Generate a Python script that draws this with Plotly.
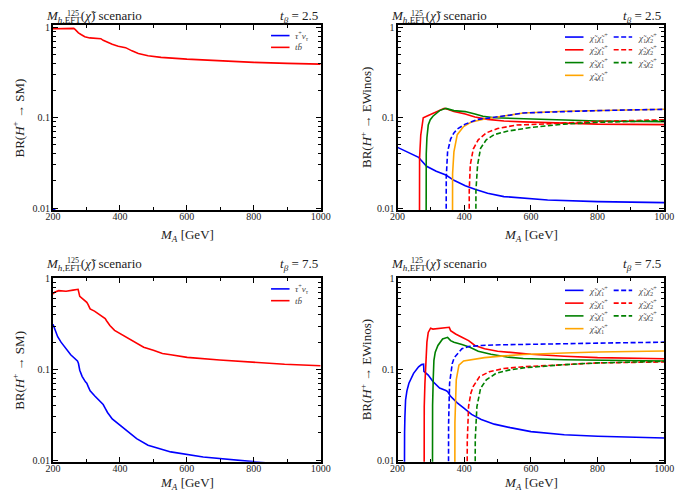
import plotly.graph_objects as go
from plotly.subplots import make_subplots

# ---- data: BR(H+ -> SM), tan(beta) = 2.5 ----
sm25_tb_x = [200, 230, 262, 266, 276, 285, 295, 310, 330, 343, 350, 357, 377, 395, 402, 417, 436, 455, 484, 523, 600, 700, 800, 900, 1000]
sm25_tb_y = [0.965, 0.97, 0.975, 0.95, 0.87, 0.83, 0.79, 0.765, 0.755, 0.75, 0.72, 0.70, 0.65, 0.62, 0.61, 0.597, 0.55, 0.515, 0.485, 0.466, 0.445, 0.425, 0.41, 0.40, 0.392]
sm25_tau_x = [200, 220, 260, 280, 300, 350, 400, 500, 600, 800, 1000]
sm25_tau_y = [0.0098, 0.0088, 0.0075, 0.0065, 0.0058, 0.0048, 0.0040, 0.0031, 0.0026, 0.0021, 0.0019]

# ---- data: BR(H+ -> SM), tan(beta) = 7.5 ----
sm75_tb_x = [200, 205, 217, 239, 260, 275, 280, 290, 296, 301, 305, 311, 324, 335, 350, 356, 360, 370, 384, 403, 427, 447, 471, 500, 527, 552, 601, 698, 795, 892, 1000]
sm75_tb_y = [0.68, 0.71, 0.74, 0.73, 0.75, 0.766, 0.64, 0.60, 0.567, 0.55, 0.52, 0.465, 0.44, 0.41, 0.38, 0.365, 0.345, 0.305, 0.27, 0.246, 0.218, 0.196, 0.176, 0.163, 0.150, 0.145, 0.136, 0.127, 0.12, 0.114, 0.11]
sm75_tau_x = [200, 207, 214, 224, 234, 253, 273, 276, 280, 287, 297, 301, 305, 311, 325, 339, 350, 355, 363, 377, 402, 426, 450, 484, 552, 649, 746, 795, 900, 1000]
sm75_tau_y = [0.315, 0.27, 0.23, 0.2, 0.179, 0.145, 0.124, 0.117, 0.098, 0.084, 0.073, 0.0705, 0.065, 0.058, 0.051, 0.045, 0.041, 0.038, 0.0335, 0.0284, 0.024, 0.0203, 0.0172, 0.0146, 0.0123, 0.0108, 0.0100, 0.0096, 0.0088, 0.0082]

# ---- data: BR(H+ -> EWinos), tan(beta) = 2.5 ----
ew25 = {
    "c11": ([200, 230, 263, 270, 287, 316, 345, 369, 403, 432, 470, 519, 577, 650, 800, 1000],
            [0.047, 0.042, 0.0365, 0.034, 0.029, 0.0256, 0.0232, 0.0203, 0.0177, 0.0162, 0.0146, 0.0134, 0.0128, 0.0123, 0.0118, 0.0115]),
    "c21": ([265, 265.3, 266, 269.5, 273, 277, 292, 311, 325, 340, 350, 369, 403, 432, 470, 519, 577, 700, 800, 1000],
            [1e-4, 0.02, 0.036, 0.064, 0.085, 0.1, 0.106, 0.114, 0.121, 0.127, 0.124, 0.117, 0.11, 0.102, 0.096, 0.092, 0.09, 0.087, 0.085, 0.084]),
    "c31": ([285, 285.3, 286, 288, 292, 298, 306, 326, 345, 369, 403, 432, 456, 490, 577, 700, 800, 1000],
            [1e-4, 0.015, 0.04, 0.06, 0.083, 0.095, 0.104, 0.12, 0.127, 0.12, 0.117, 0.11, 0.104, 0.1, 0.0975, 0.094, 0.092, 0.0905]),
    "c41": ([364, 364.5, 365, 369, 374, 379, 398, 422, 461, 500, 538, 577, 700, 800, 1000],
            [1e-4, 0.015, 0.024, 0.042, 0.055, 0.065, 0.08, 0.09, 0.097, 0.1017, 0.107, 0.113, 0.118, 0.12, 0.124]),
    "c12": ([345, 345.5, 346, 350, 359, 369, 379, 403, 442, 480, 500, 538, 577, 700, 800, 1000],
            [1e-4, 0.01, 0.022, 0.042, 0.058, 0.068, 0.075, 0.085, 0.096, 0.1, 0.1017, 0.107, 0.113, 0.118, 0.12, 0.124]),
    "c22": ([414, 414.5, 415, 418, 427, 442, 466, 500, 557, 600, 700, 800, 1000],
            [1e-4, 0.012, 0.0156, 0.03, 0.045, 0.057, 0.068, 0.076, 0.083, 0.084, 0.088, 0.091, 0.095]),
    "c32": ([434, 434.5, 435, 440, 449, 466, 490, 528, 567, 600, 700, 800, 1000],
            [1e-4, 0.012, 0.0156, 0.03, 0.046, 0.057, 0.065, 0.071, 0.075, 0.078, 0.085, 0.089, 0.093]),
}

# ---- data: BR(H+ -> EWinos), tan(beta) = 7.5 ----
ew75 = {
    "c11": ([219, 219.5, 220, 221, 222, 224, 228, 234, 248, 263, 272, 278, 279, 292, 306, 326, 345, 350, 359, 379, 398, 422, 451, 490, 538, 577, 600, 700, 800, 1000],
            [1e-4, 0.005, 0.012, 0.02, 0.03, 0.046, 0.058, 0.0705, 0.0905, 0.107, 0.113, 0.114, 0.095, 0.0868, 0.0735, 0.0622, 0.0586, 0.057, 0.0505, 0.0427, 0.0377, 0.0319, 0.0281, 0.0249, 0.0228, 0.0216, 0.0206, 0.019, 0.0183, 0.0175]),
    "c21": ([279, 279.3, 280, 282, 285, 288, 292, 299, 306, 335, 350, 355, 359, 374, 393, 413, 432, 461, 500, 548, 577, 600, 700, 800, 1000],
            [1e-4, 0.02, 0.039, 0.07, 0.137, 0.2, 0.256, 0.285, 0.279, 0.286, 0.29, 0.292, 0.268, 0.246, 0.227, 0.208, 0.184, 0.169, 0.159, 0.152, 0.149, 0.147, 0.14, 0.135, 0.131]),
    "c31": ([304, 304.3, 305, 307, 309, 313, 321, 335, 350, 359, 369, 393, 417, 442, 480, 528, 577, 700, 800, 1000],
            [1e-4, 0.02, 0.04, 0.08, 0.126, 0.155, 0.184, 0.217, 0.226, 0.208, 0.2, 0.188, 0.176, 0.159, 0.147, 0.137, 0.132, 0.128, 0.126, 0.124]),
    "c41": ([371, 371.3, 372, 376, 380, 384, 398, 422, 461, 519, 577, 700, 800, 1000],
            [1e-4, 0.015, 0.026, 0.0766, 0.098, 0.1115, 0.124, 0.128, 0.135, 0.141, 0.146, 0.152, 0.156, 0.16]),
    "c12": ([352, 352.3, 353, 356, 360, 364, 370, 379, 393, 413, 451, 509, 577, 700, 800, 1000],
            [1e-4, 0.015, 0.025, 0.0705, 0.095, 0.116, 0.135, 0.149, 0.169, 0.179, 0.184, 0.187, 0.188, 0.192, 0.195, 0.2]),
    "c22": ([408, 408.3, 409, 413, 420, 427, 446, 475, 519, 577, 700, 800, 1000],
            [1e-4, 0.012, 0.016, 0.0393, 0.055, 0.065, 0.0832, 0.0943, 0.1025, 0.107, 0.114, 0.118, 0.121]),
    "c32": ([432, 432.3, 433, 438, 449, 466, 495, 533, 577, 700, 800, 1000],
            [1e-4, 0.012, 0.017, 0.039, 0.062, 0.0766, 0.0905, 0.0983, 0.104, 0.113, 0.118, 0.123]),
}

tanb_labels = ["2.5", "7.5"]
x_ticks = [200, 400, 600, 800, 1000]
y_ticks = [0.01, 0.1, 1]
y_tick_text = ["0.01", "0.1", "1"]

BLUE, RED, GREEN, ORANGE = "#0000ff", "#ff0000", "#008000", "#ffa500"
FONT = "Liberation Serif"
OFF = 8  # the page body margin shifts the figure by 8 px
W, H = 685 - OFF, 503 - OFF


def px(x):
    return (x - OFF) / W


def py(y):
    return 1 - (y - OFF) / H


def chi(i, j):
    return f"<i>χ̃</i><sub>{i}</sub><i>χ̃</i><sub>{j}</sub><sup>+</sup>"


# channel key -> (color, dash, legend html)
ew_style = {
    "c11": (BLUE, "solid", chi(1, 1)),
    "c21": (RED, "solid", chi(2, 1)),
    "c31": (GREEN, "solid", chi(3, 1)),
    "c41": (ORANGE, "solid", chi(4, 1)),
    "c12": (BLUE, "5px,2.5px", chi(1, 2)),
    "c22": (RED, "5px,2.5px", chi(2, 2)),
    "c32": (GREEN, "5px,2.5px", chi(3, 2)),
}
ew_order = ["c11", "c21", "c31", "c41", "c12", "c22", "c32"]

fig = make_subplots(rows=2, cols=2)

sm_sets = [(sm25_tau_x, sm25_tau_y, sm25_tb_x, sm25_tb_y), (sm75_tau_x, sm75_tau_y, sm75_tb_x, sm75_tb_y)]
for r, (tx, ty, bx, by) in enumerate(sm_sets, start=1):
    fig.add_trace(go.Scatter(x=tx, y=ty, mode="lines", line=dict(color=BLUE, width=1.6), showlegend=False), row=r, col=1)
    fig.add_trace(go.Scatter(x=bx, y=by, mode="lines", line=dict(color=RED, width=1.6), showlegend=False), row=r, col=1)

for r, ew in enumerate([ew25, ew75], start=1):
    for k in ew_order:
        col, dash, _ = ew_style[k]
        xs, ys = ew[k]
        fig.add_trace(go.Scatter(x=xs, y=ys, mode="lines", line=dict(color=col, width=1.6, dash=dash),
                                 showlegend=False), row=r, col=2)

# panel boxes in page pixels: (left, right, top, bottom)
boxes = {
    (1, 1): (46, 321, 20, 209),
    (1, 2): (400, 674, 20, 209),
    (2, 1): (46, 321, 278, 465),
    (2, 2): (400, 674, 278, 465),
}
yranges = {1: [-2.025, 0.029], 2: [-2.018, 0.008]}
xtitle_gap = {1: 26, 2: 22}
title_y = {1: 12, 2: 264}
minor_y = [k * 10 ** e for e in (-3, -2, -1, 0) for k in range(2, 10)]

axis_common = dict(showline=True, linecolor="black", linewidth=2, mirror="allticks",
                   ticks="inside", ticklen=5, tickwidth=1, tickcolor="black",
                   showgrid=False, zeroline=False, ticklabeloverflow="allow",
                   tickfont=dict(family=FONT, size=10, color="#222"))

for (r, c), (l, rr, t, b) in boxes.items():
    fig.update_xaxes(domain=[px(l), px(rr)], range=[200, 1000], tickvals=x_ticks,
                     ticklabelstandoff=-4,
                     minor=dict(dtick=100, tick0=0, ticks="inside", ticklen=3, tickcolor="black"),
                     row=r, col=c, **axis_common)
    fig.update_yaxes(domain=[py(b), py(t)], type="log", range=yranges[r],
                     tickvals=y_ticks, ticktext=y_tick_text, ticklabelstandoff=-1,
                     minor=dict(tickvals=minor_y, ticks="inside", ticklen=3, tickcolor="black"),
                     row=r, col=c, **axis_common)

ann = []
title_font = dict(family=FONT, size=13, color="#222")
for (r, c), (l, rr, t, b) in boxes.items():
    ty = title_y[r]
    ann.append(dict(x=px(l - 9), y=py(ty), xref="paper", yref="paper", xanchor="left", yanchor="middle",
                    text="<i>M</i><sub><i>h</i>,EFT</sub>(<i>χ̃</i>) scenario", showarrow=False, font=title_font))
    ann.append(dict(x=px(l + 12), y=py(ty - 3.5), xref="paper", yref="paper", xanchor="left", yanchor="middle",
                    text="125", showarrow=False, font=dict(family=FONT, size=8, color="#222")))
    ann.append(dict(x=px(rr - 1), y=py(ty), xref="paper", yref="paper", xanchor="right", yanchor="middle",
                    text=f"<i>t<sub>β</sub></i> = {tanb_labels[r - 1]}", showarrow=False, font=title_font))
    ann.append(dict(x=px((l + rr) / 2), y=py(b + xtitle_gap[r]), xref="paper", yref="paper", xanchor="center",
                    yanchor="middle", text="<i>M<sub>A</sub></i> [GeV]", showarrow=False,
                    font=dict(family=FONT, size=13, color="#222")))
    ylab = "BR(<i>H</i><sup>+</sup> → SM)" if c == 1 else "BR(<i>H</i><sup>+</sup> → EWinos)"
    ann.append(dict(x=px(l - (36 if c == 1 else 33)), y=py((t + b) / 2), xref="paper", yref="paper",
                    xanchor="center", yanchor="middle", text=ylab, textangle=-90, showarrow=False,
                    font=dict(family=FONT, size=13, color="#222")))

shapes = []
leg_font = dict(family=FONT, size=9, color="#444")


def leg_entry(x0, y, color, dash, text):
    shapes.append(dict(type="line", xref="paper", yref="paper", x0=px(x0), x1=px(x0 + 19), y0=py(y), y1=py(y),
                       line=dict(color=color, width=1.6, dash=dash)))
    ann.append(dict(x=px(x0 + 23), y=py(y), xref="paper", yref="paper", xanchor="left", yanchor="middle",
                    text=text, showarrow=False, font=leg_font))


for r, t in [(1, 20), (2, 278)]:
    leg_entry(270, t + 11, BLUE, "solid", "<i>τ</i><sup>+</sup><i>ν<sub>τ</sub></i>")
    leg_entry(270, t + 23, RED, "solid", "<i>tb̄</i>")
    for i, k in enumerate(["c11", "c21", "c31", "c41"]):
        col, dash, txt = ew_style[k]
        leg_entry(572, t + 12.5 + 13 * i, col, dash, txt)
    for i, k in enumerate(["c12", "c22", "c32"]):
        col, dash, txt = ew_style[k]
        leg_entry(622, t + 12.5 + 13 * i, col, dash, txt)

fig.update_layout(width=W, height=H, margin=dict(l=0, r=0, t=0, b=0),
                  plot_bgcolor="white", paper_bgcolor="white",
                  font=dict(family=FONT), annotations=ann, shapes=shapes, showlegend=False)

fig.write_html("out.html")
